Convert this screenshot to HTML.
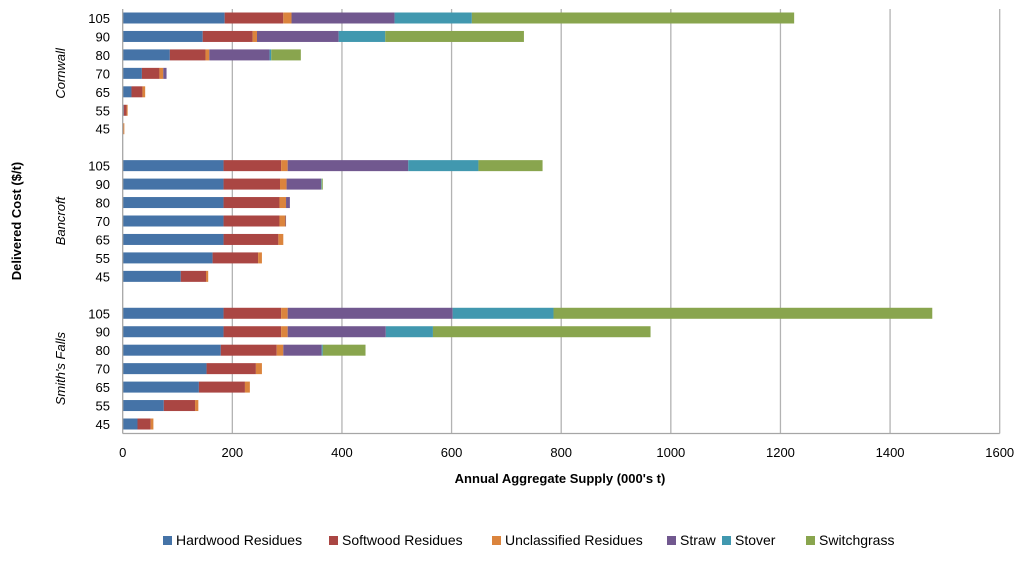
<!DOCTYPE html>
<html><head><meta charset="utf-8"><style>
body{margin:0;background:#fff;}
svg text{font-family:"Liberation Sans",sans-serif;fill:#000;}
</style></head><body>
<svg id="chart" width="1024" height="563" viewBox="0 0 1024 563" xmlns="http://www.w3.org/2000/svg">
<g id="grid"></g>
<g id="bars"></g>
<g id="axes"></g>
<g id="legend"></g>
</svg>
<script>
const series = ["Hardwood Residues","Softwood Residues","Unclassified Residues","Straw","Stover","Switchgrass"];
const colors = ["#4573A7","#AA4643","#DB843D","#71588F","#4198AF","#89A54E"];
const groups = ["Cornwall","Bancroft","Smith's Falls"];
const costs = ["105","90","80","70","65","55","45"];
const hardwood = [186,146,86,35,16,2,0, 184,184,184,184,184,164,106, 184,184,179,153,139,75,27];
const softwood = [107,91,65,32,20,5,1, 105,103,102,102,100,83,46, 105,105,102,90,84,57,24];
const unclassified = [15,8,7,7,5,2,2, 12,12,12,11,9,7,4, 12,12,12,11,9,6,5];
const straw = [188,149,110,6,0,0,0, 220,63,7,1,0,0,0, 301,179,70,0,0,0,0];
const stover = [141,85,3,0,0,0,0, 128,1,0,0,0,0,0, 184,86,2,0,0,0,0];
const switchgrass = [588,253,54,0,0,0,0, 117,2,0,0,0,0,0, 691,397,78,0,0,0,0];
const xTicks = [0,200,400,600,800,1000,1200,1400,1600];
const seriesData = [hardwood,softwood,unclassified,straw,stover,switchgrass];

const NS="http://www.w3.org/2000/svg";
function mk(tag,attrs,parent){const e=document.createElementNS(NS,tag);for(const k in attrs)e.setAttribute(k,attrs[k]);parent.appendChild(e);return e;}
const x0=122.7, x1=999.7, xMax=1600;
const xs=v=>x0+v/xMax*(x1-x0);
const yTop=18, pitch=406/22;
const rowY=i=>{const g=Math.floor(i/7), r=i%7;return yTop+(g*8+r)*pitch;};
const grid=document.getElementById('grid'), bars=document.getElementById('bars'), axes=document.getElementById('axes'), legend=document.getElementById('legend');

xTicks.forEach(t=>{
  if(t>0){const l=mk('line',{x1:xs(t),x2:xs(t),y1:9,y2:433.5,stroke:'#b3b3b3','stroke-width':1.3},grid);
  
  }
  const tx=mk('text',{x:xs(t),y:457,'text-anchor':'middle','font-size':13},axes);
  tx.textContent=t;
  
  
});
const ax=mk('line',{x1:x0,x2:x1,y1:433.5,y2:433.5,stroke:'#a6a6a6','stroke-width':1.3},axes);


const ay=mk('line',{x1:x0,x2:x0,y1:9,y2:433.5,stroke:'#a6a6a6','stroke-width':1.3},axes);



for(let i=0;i<hardwood.length;i++){
  const y=rowY(i); let acc=0;
  seriesData.forEach((arr,s)=>{
    const v=arr[i]; if(v<=0)return;
    const r=mk('rect',{x:xs(acc),y:y-5.5,width:xs(acc+v)-xs(acc),height:11,fill:colors[s]},bars);
    
    
    acc+=v;
  });
  const lt=mk('text',{x:110,y:y+5,'text-anchor':'end','font-size':13},axes);
  lt.textContent=costs[i%7];
  
  
}
groups.forEach((g,gi)=>{
  const cy=(rowY(gi*7)+rowY(gi*7+6))/2;
  const t=mk('text',{x:0,y:0,transform:`translate(65,${cy}) rotate(-90)`,'text-anchor':'middle','font-size':13,'font-style':'italic'},axes);
  t.textContent=g;
  
  
});
const yt=mk('text',{x:0,y:0,transform:'translate(21,221) rotate(-90)','text-anchor':'middle','font-size':13,'font-weight':'bold'},axes);
yt.textContent='Delivered Cost ($/t)';


const xt=mk('text',{x:560,y:483,'text-anchor':'middle','font-size':13,'font-weight':'bold'},axes);
xt.textContent="Annual Aggregate Supply (000's t)";



const legX=[163,329,492,667,722,806];
series.forEach((s,i)=>{
  const g=mk('g',{},legend);
  
  
  mk('rect',{x:legX[i],y:536,width:9,height:9,fill:colors[i]},g);
  const t=mk('text',{x:legX[i]+13,y:545,'font-size':14},g);
  t.textContent=s;
});
</script>
</body></html>
